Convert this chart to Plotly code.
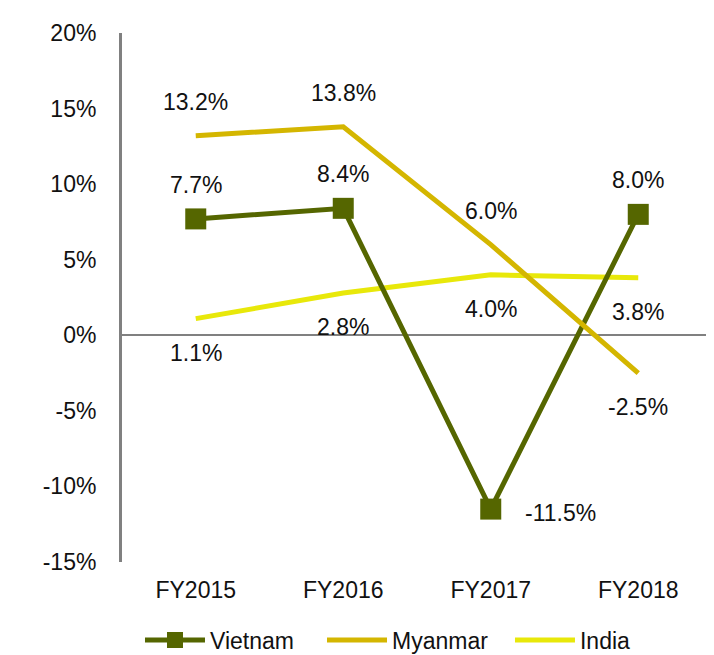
import plotly.graph_objects as go

categories = ["FY2015", "FY2016", "FY2017", "FY2018"]
vietnam = [7.7, 8.4, -11.5, 8.0]
myanmar = [13.2, 13.8, 6.0, -2.5]
india = [1.1, 2.8, 4.0, 3.8]

y_ticks = [-15, -10, -5, 0, 5, 10, 15, 20]
y_tick_labels = ["-15%", "-10%", "-5%", "0%", "5%", "10%", "15%", "20%"]

C_VN = "#556600"
C_MM = "#D4B600"
C_IN = "#E8E80A"
FONT = "Arial, Liberation Sans, sans-serif"
FS = 23

fig = go.Figure()
fig.add_trace(go.Scatter(x=categories, y=india, name="India", mode="lines",
                         line=dict(color=C_IN, width=5), legend="legend3"))
fig.add_trace(go.Scatter(x=categories, y=vietnam, name="Vietnam", mode="lines+markers",
                         line=dict(color=C_VN, width=5),
                         marker=dict(symbol="square", size=21, color=C_VN),
                         legend="legend"))
fig.add_trace(go.Scatter(x=categories, y=myanmar, name="Myanmar", mode="lines",
                         line=dict(color=C_MM, width=5), legend="legend2"))

annotations = []
def lab(x, y, pos):
    d = dict(x=x, y=y, text=f"{y:.1f}%", showarrow=False,
             font=dict(family=FONT, size=FS, color="#111111"))
    if pos == "above":
        d.update(yshift=34)
    elif pos == "below":
        d.update(yshift=-34)
    elif pos == "right":
        d.update(xanchor="left", xshift=32, yshift=-4)
    annotations.append(d)

vn_pos = ["above", "above", "right", "above"]
mm_pos = ["above", "above", "above", "below"]
in_pos = ["below", "below", "below", "below"]
for c, v, p in zip(categories, vietnam, vn_pos):
    lab(c, v, p)
for c, v, p in zip(categories, myanmar, mm_pos):
    lab(c, v, p)
for c, v, p in zip(categories, india, in_pos):
    lab(c, v, p)

def leg(x):
    return dict(orientation="h", x=x, xanchor="left", y=-0.1474, yanchor="middle",
                font=dict(family=FONT, size=FS, color="#111111"),
                itemwidth=60, bgcolor="rgba(0,0,0,0)")

fig.update_layout(
    width=706, height=647,
    margin=dict(l=114, r=2, t=25, b=93, autoexpand=False),
    paper_bgcolor="white", plot_bgcolor="white",
    font=dict(family=FONT, size=FS, color="#111111"),
    showlegend=True,
    legend=leg(0.0305),
    legend2=leg(0.3390),
    legend3=leg(0.6576),
    annotations=annotations,
    xaxis=dict(type="category", range=[-0.5, 3.5], showgrid=False, showline=False,
               zeroline=False, ticks="", ticklabelstandoff=12, automargin=False,
               tickfont=dict(family=FONT, size=FS, color="#111111")),
    yaxis=dict(range=[-15, 20], tickmode="array", tickvals=y_ticks, ticktext=y_tick_labels,
               showgrid=False, automargin=False,
               showline=True, linecolor="#808080", linewidth=3,
               zeroline=True, zerolinecolor="#808080", zerolinewidth=2,
               ticks="", ticklabelstandoff=18,
               tickfont=dict(family=FONT, size=FS, color="#111111")),
)

fig.write_html("out.html")
